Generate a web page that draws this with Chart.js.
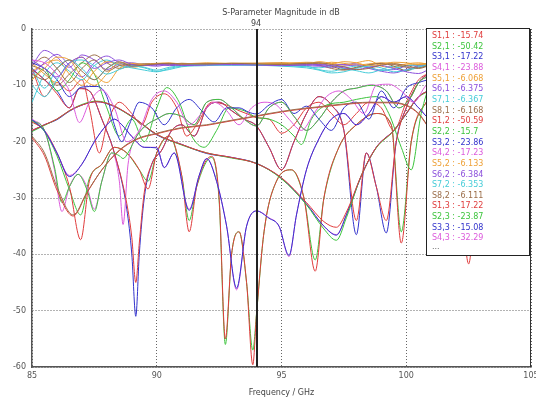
<!DOCTYPE html>
<html><head><meta charset="utf-8">
<script src="https://cdn.jsdelivr.net/npm/chart.js@4.4.0/dist/chart.umd.min.js"></script>
<style>html,body{margin:0;padding:0;background:#fff;overflow:hidden;}</style>
</head><body><canvas id="c" width="536" height="401"></canvas>
<script>
// ---------- data ----------
const chartTitle = 'S-Parameter Magnitude in dB';
const xTitle = 'Frequency / GHz';
const xMin = 85, xMax = 105, xStep = 5;
const yMin = -60, yMax = 0, yStep = 10;
const markerFreq = 94;

const portColors = ['#e03c3c','#3cc43c','#3232cc','#dc5adc','#eea036','#8c50dc','#46ccd8','#9c6e4a'];

const FU = [85,85.5,86,86.5,87,87.5,88,88.5,89,89.5,90,90.5,91,92,93,94,95,96,96.5,97,97.5,98,98.5,99,99.5,100,100.5,101,102,103,104,105];
const vS51 = [-7.5,-6.2,-5.5,-8,-10,-7.5,-5.8,-6.3,-6.8,-6.5,-6.2,-6.4,-6.3,-6.2,-6.1,-6.07,-6.0,-6.2,-5.8,-6.1,-6.4,-6.0,-5.6,-6.6,-6.8,-6.2,-6.0,-6.3,-6.1,-6.2,-6.1,-6.1];
const vS61 = [-6.5,-3.8,-5,-6.8,-4.6,-5.5,-7.2,-6.2,-6.0,-6.4,-6.6,-6.3,-6.4,-6.3,-6.2,-6.38,-6.3,-6.5,-6.6,-6.4,-6.3,-6.2,-6.8,-7.3,-7.2,-6.6,-6.4,-6.5,-6.4,-6.3,-6.4,-6.4];
const vS71 = [-13,-8,-6,-7.5,-9,-6.5,-5.5,-6.5,-6.9,-7.3,-7.6,-7.0,-6.6,-6.4,-6.4,-6.37,-6.5,-6.7,-6.9,-6.6,-7.0,-7.4,-7.8,-7.2,-6.6,-7.4,-6.8,-6.5,-6.4,-6.4,-6.3,-6.4];
const vS81 = [-6.5,-7.5,-10,-8,-6,-4.6,-6,-7,-6.5,-6.2,-6.3,-6.2,-6.2,-6.1,-6.2,-6.17,-6.2,-6.0,-6.4,-7.0,-7.3,-6.9,-6.3,-6.1,-6.6,-7.4,-6.4,-6.2,-6.1,-6.2,-6.1,-6.2];
const vS52 = [-6,-8,-9.5,-6.2,-5,-8,-9.5,-7,-6.2,-6.4,-6.3,-6.2,-6.1,-6.2,-6.1,-6.13,-6.0,-6.1,-6.3,-5.9,-6.1,-6.4,-6.2,-6.0,-6.1,-6.4,-6.2,-6.1,-6.1,-6.2,-6.1,-6.1];
const vS62 = [-8,-6,-4.5,-6.5,-8.5,-6,-4.8,-6,-6.6,-6.4,-6.3,-6.5,-6.4,-6.3,-6.4,-6.38,-6.4,-6.3,-6.5,-6.8,-6.6,-6.4,-7.0,-7.5,-7.8,-7.2,-6.6,-6.4,-6.4,-6.4,-6.4,-6.4];
const vS72 = [-7,-10.5,-7,-5.5,-7,-9,-7,-6,-6.5,-6.8,-7.3,-6.8,-6.5,-6.3,-6.4,-6.35,-6.4,-6.6,-7.2,-7.5,-7.0,-6.6,-6.8,-7.4,-7.0,-6.5,-6.4,-6.3,-6.4,-6.4,-6.3,-6.4];
const vS82 = [-6.5,-5,-7,-9.5,-7,-5.5,-7.5,-6.5,-6.3,-6.2,-6.1,-6.2,-6.1,-6.2,-6.1,-6.11,-6.1,-6.2,-6.1,-6.6,-7.2,-6.8,-6.4,-6.1,-6.3,-6.8,-7.0,-6.4,-6.1,-6.1,-6.1,-6.1];
const vS53 = [-9,-7,-5,-5.5,-8.5,-10,-8,-6,-6.1,-6.3,-6.1,-6.0,-6.2,-6.0,-6.1,-6.1,-6.2,-5.9,-6.0,-6.2,-5.8,-6.0,-6.5,-6.3,-5.9,-6.0,-6.3,-6.2,-6.0,-6.1,-6.1,-6.0];
const vS73 = [-10,-12,-9,-6,-5.5,-6.5,-8,-7.2,-6.5,-6.9,-7.5,-7.2,-6.7,-6.5,-6.3,-6.4,-6.6,-6.9,-7.3,-7.8,-7.6,-7.0,-6.6,-6.9,-7.6,-7.3,-6.7,-6.4,-6.4,-6.3,-6.4,-6.3];
const vS64 = [-5.5,-7,-8.5,-6,-5,-7,-6,-5.5,-6.3,-6.5,-6.4,-6.2,-6.5,-6.4,-6.3,-6.4,-6.5,-6.4,-6.3,-6.5,-6.9,-7.2,-6.8,-6.5,-7.0,-7.6,-7.9,-7.0,-6.5,-6.4,-6.4,-6.4];
const vS84 = [-8,-9,-7,-5.5,-7.5,-9,-7,-5.8,-6.6,-6.4,-6.2,-6.1,-6.2,-6.2,-6.1,-6.2,-6.3,-6.1,-6.0,-6.3,-6.7,-7.2,-7.0,-6.4,-6.2,-6.5,-6.9,-6.3,-6.2,-6.1,-6.2,-6.2];

const fA1 = [85,85.5,86,86.5,87,87.3,87.7,88,88.5,89,89.4,89.8,90.3,90.8,91.2,91.6,92.2,92.8,93.3,93.7,94,94.5,95,95.5,96,96.5,97,97.5,98,98.5,99,99.5,100,100.5,101,102,103,104,105];
const vS11 = [-7,-12,-9.5,-11,-9,-14,-22,-17,-13,-15,-17,-13,-11.5,-14,-19,-17,-13,-13.5,-14.5,-15.2,-15.74,-16,-18.5,-17,-14,-13,-15,-17,-15,-13,-14,-18,-13,-9,-8,-10,-8,-10,-9];

const fA2 = [85,85.5,86,86.5,87,87.5,88,88.5,89,89.5,90,90.4,90.9,91.4,91.9,92.4,92.9,93.5,94,94.5,95,95.5,95.8,96.2,96.8,97.5,98,98.8,99.3,99.8,100.2,100.6,101,102,103,104,105];
const vS22 = [-9,-7,-11,-9,-6,-8,-14,-19,-16,-20,-14,-10.4,-13,-19,-21,-18,-14,-14.5,-15.7,-16,-17,-19,-20.5,-16,-13.5,-13,-12.5,-12,-15,-21,-25,-15,-10,-9,-11,-9,-10];

const fA3 = [85,85.5,86,86.5,87,87.6,88,88.3,88.6,88.9,89.3,89.8,90.3,90.8,91.3,91.8,92.3,92.8,93.3,93.7,94,94.5,95,95.5,96,96.5,97,97.5,98,98.5,99,99.5,100,100.5,101,102,103,104,105];
const vS33 = [-6,-7,-9,-12,-10.3,-10.2,-12,-17,-20,-17,-13,-14,-17,-14,-12.5,-14.5,-16.5,-14,-14,-14.8,-15.08,-13.5,-12.5,-15,-13.7,-16,-18,-14,-13,-16,-11,-14,-10.5,-9.5,-9,-11,-9,-10,-9];

const fA4 = [85,85.5,86,86.5,86.9,87.3,87.8,88.3,88.8,89.3,89.8,90.3,90.8,91.3,91.8,92.3,92.8,93.3,93.8,94.3,94.8,95.3,95.8,96.3,96.8,97.3,97.8,98.3,98.8,99.3,99.8,100.3,100.8,101.5,102,103,104,105];
const vS44 = [-5.5,-6,-8,-11,-16.6,-13,-10.8,-14,-20,-18,-12.5,-11,-13,-17,-15,-13,-14.5,-17,-14,-13,-13.5,-16,-18,-15,-12,-11,-12.5,-15,-10,-9.8,-11,-13,-10,-9,-10,-9,-10,-9];

const fB = [85,85.5,86,86.5,86.95,87.3,87.8,88.3,88.8,89.3,89.65,90,90.5,91,91.3,91.6,92.2,92.5,92.75,93.0,93.3,93.6,93.85,94,94.3,94.8,95.4,95.9,96.35,96.7,97.3,98,98.8,99.4,99.8,100.2,100.8,101.5,102,102.5,103,104,105];
const vS12 = [-16.5,-18,-22,-28,-37.4,-27,-24,-21,-22,-25,-28.4,-22,-19,-26,-36,-28,-22.6,-30,-55,-40,-36,-45,-59.6,-50.59,-36,-27,-25,-30,-43,-30,-21,-17,-15,-17,-38,-20,-13,-10,-15,-41.7,-15,-12,-12];
const vS21 = [-16.3,-18.2,-22.5,-28.5,-33,-26.5,-24,-21,-22,-25,-27,-22,-19,-26,-34,-28,-22.8,-30.5,-56,-40,-36,-45,-57,-50.42,-36,-27,-25,-30,-41,-30,-21,-17,-15,-17,-36,-20,-13,-10,-15,-40,-15,-12,-12];

const fC = [85,85.5,86,86.5,86.9,87.3,87.8,88.3,88.8,89.0,89.16,89.3,89.5,89.8,90.2,90.6,91,91.5,92,92.5,93,93.5,94,94.5,95,95.5,96,96.5,97,97.5,98,98.4,98.8,99.2,99.6,100,100.5,101,102,103,104,105];
const vS31 = [-7,-9,-11,-14,-10.5,-11,-16,-22,-32,-40,-51,-40,-30,-24,-21.5,-18,-17,-19,-14,-13,-14.5,-16,-17.22,-21,-25,-20,-15,-12,-13.5,-18,-36.5,-22,-28,-36.2,-20,-14,-9.5,-8,-9,-12,-9,-10];
const vS13 = [-7.2,-9,-11.5,-14,-10.6,-11,-16,-22,-31,-37,-45,-38,-29,-24,-21.5,-18,-17,-19,-14,-13,-14.5,-16,-17.22,-21,-25,-20,-15,-12,-13.5,-18,-34,-22,-28,-34,-20,-14,-9.5,-8,-9,-12,-9,-10];

const fD = [85,85.5,86,86.5,87,87.6,88.2,89,90,91,92,93,94,95,96,96.7,97.2,97.6,98.2,98.8,99.5,100,100.5,101,102,103,104,105];
const vS41 = [-18,-17,-16,-14.5,-13.5,-12.9,-13.5,-15.5,-18.7,-20.5,-22,-22.8,-23.88,-26.5,-31,-35,-36.5,-33,-26,-21,-18,-15,-12,-11,-13,-15,-13,-12];
const vS32 = [-18.1,-17,-16.1,-14.6,-13.5,-12.9,-13.6,-15.5,-18.8,-20.5,-22.1,-22.8,-23.86,-26.5,-31.1,-35,-36.6,-33,-26.1,-21,-18,-15.1,-12,-11,-13,-15,-13,-12];
const vS23 = [-18.2,-17.1,-16,-14.5,-13.4,-12.8,-13.5,-15.6,-18.7,-20.6,-22,-22.9,-23.87,-26.6,-31.2,-35.5,-37.5,-33.5,-26,-21.1,-18.1,-15,-12.1,-11.1,-13.1,-15.1,-13.1,-12.1];
const vS14 = [-18,-17,-16,-14.5,-13.5,-12.9,-13.5,-15.5,-18.7,-20.5,-22,-22.8,-23.9,-26.4,-30.8,-34.2,-35.2,-32.5,-26,-21,-18,-15,-12,-11,-13,-15,-13,-12];

const fE = [85,85.5,85.9,86.2,86.5,86.85,87.2,87.5,87.8,88.2,88.5,88.65,88.85,89.2,89.6,90,90.5,91,91.5,92,92.5,93,93.5,94,94.5,95,95.5,96,96.5,97,97.5,98,98.6,99.2,99.7,100.2,100.5,101,102,103,104,105];
const vS42 = [-16,-18,-25,-32.4,-28,-25.8,-28,-32,-27,-22,-27,-34.7,-24,-19,-17,-16,-15,-15.5,-17,-13,-12.5,-14,-16,-17.23,-14,-13,-15.5,-18,-16,-13,-11,-10.5,-9.9,-11,-14,-12,-9.5,-8.5,-10,-9,-11,-9];
const vS24 = [-16.2,-18,-24.5,-30.8,-28,-25.8,-28.5,-32.4,-27,-22,-22.5,-23,-22,-19,-17,-16,-15,-15.5,-17,-13,-12.5,-14,-16,-17.2,-14,-13,-15.5,-18,-16,-13,-11,-10.5,-10,-11,-14,-12,-9.5,-8.5,-10,-9,-11,-9];

const fF = [85,85.5,86,86.5,87,87.5,88,88.3,88.6,89,89.5,90,90.3,90.7,91.3,91.7,92.0,92.4,92.8,93.2,93.6,94,94.5,94.9,95.3,95.6,96,96.5,97,97.5,98,98.5,99,99.5,100,100.5,101,102,103,104,105];
const vS43 = [-16,-18,-22,-26,-24,-20,-17,-16,-17,-19,-21,-21,-24.6,-22,-32,-26,-23,-27,-35,-46.3,-35,-32.29,-33.5,-35,-40.4,-33,-25,-19.5,-16,-15,-17,-15,-12,-13,-12,-14,-16,-14,-12,-14,-12];
const vS34 = [-16.1,-18.1,-22,-26.2,-24,-20,-17,-16,-17,-19.1,-21,-21.1,-24.6,-22,-32.2,-26,-23,-27.1,-35,-46,-35,-32.3,-33.6,-35,-40.2,-33,-25,-19.5,-16,-15,-17,-15,-12,-13,-12,-14,-16,-14,-12,-14,-12];

const fDome = [85,85.5,86,86.65,87.2,87.8,88.5,89.2,90,91,92,92.5,93.5,94.5,95.5,96.5,97.5,98.5,99.3,100,100.5,101,102,103,104,105];
const vS18 = [-19.3,-22.5,-28.6,-33.2,-29.1,-25,-21.6,-19.6,-18.6,-17.6,-17.1,-16.7,-15.9,-15.1,-14.4,-13.9,-13.4,-13.1,-13.1,-13.6,-15.1,-18.1,-22.1,-20.1,-17.1,-15.1];
const vS85 = [-19,-22,-28,-33,-29,-25,-21.5,-19.5,-18.5,-17.5,-17,-16.6,-15.8,-15,-14.3,-13.8,-13.3,-13,-13,-13.5,-15,-18,-22,-20,-17,-15];

// legend (values at marker 94 GHz)
const legendLabels = ['S1,1','S2,1','S3,1','S4,1','S5,1','S6,1','S7,1','S8,1','S1,2','S2,2','S3,2','S4,2','S5,2','S6,2','S7,2','S8,2','S1,3','S2,3','S3,3','S4,3'];
const legendValues = ['-15.74','-50.42','-17.22','-23.88','-6.068','-6.375','-6.367','-6.168','-50.59','-15.7','-23.86','-17.23','-6.133','-6.384','-6.353','-6.111','-17.22','-23.87','-15.08','-32.29'];

// series: [name, colour index, freqs, dB]
const series = [
  ['S1,1',0,fA1,vS11],['S2,1',1,fB,vS21],['S3,1',2,fC,vS31],['S4,1',3,fD,vS41],
  ['S5,1',4,FU,vS51],['S6,1',5,FU,vS61],['S7,1',6,FU,vS71],['S8,1',7,FU,vS81],
  ['S1,2',0,fB,vS12],['S2,2',1,fA2,vS22],['S3,2',2,fD,vS32],['S4,2',3,fE,vS42],
  ['S5,2',4,FU,vS52],['S6,2',5,FU,vS62],['S7,2',6,FU,vS72],['S8,2',7,FU,vS82],
  ['S1,3',0,fC,vS13],['S2,3',1,fD,vS23],['S3,3',2,fA3,vS33],['S4,3',3,fF,vS43],
  ['S5,3',4,FU,vS53],['S7,3',6,FU,vS73],['S6,4',5,FU,vS64],['S8,4',7,FU,vS84],
  ['S1,4',0,fD,vS14],['S2,4',1,fE,vS24],['S3,4',2,fF,vS34],['S4,4',3,fA4,vS44],
  ['S1,8',0,fDome,vS18],['S8,5',7,fDome,vS85]
];

// ---------- chart ----------
const FONT = '"DejaVu Sans", Verdana, sans-serif';
const datasets = series.map((s, i) => ({
  label: s[0],
  data: s[2].map((f, k) => ({x: f, y: s[3][k]})),
  borderColor: portColors[s[1]],
  borderWidth: 1,
  pointRadius: 0,
  fill: false,
  cubicInterpolationMode: 'monotone',
  order: -i
}));

const overlay = {
  id: 'overlay',
  afterDatasetsDraw(chart) {
    const {ctx, chartArea: a, scales: {x}} = chart;
    ctx.save();
    // right frame line
    ctx.strokeStyle = '#333'; ctx.lineWidth = 1;
    ctx.beginPath(); ctx.moveTo(a.right - 0.5, a.top); ctx.lineTo(a.right - 0.5, a.bottom); ctx.stroke();
    // marker
    const mx = Math.round(x.getPixelForValue(markerFreq));
    ctx.strokeStyle = '#222'; ctx.lineWidth = 2;
    ctx.beginPath(); ctx.moveTo(mx, a.top); ctx.lineTo(mx, a.bottom); ctx.stroke();
    ctx.fillStyle = '#444'; ctx.font = '8px ' + FONT;
    ctx.textAlign = 'center'; ctx.textBaseline = 'middle';
    ctx.fillText(String(markerFreq), mx - 1, a.top - 5);
    // title
    ctx.fillText(chartTitle, 281, 13);
    // legend box
    const bx = 426.5, by = 28.5, bw = 103, bh = 227;
    ctx.fillStyle = '#fff'; ctx.fillRect(bx, by, bw, bh);
    ctx.strokeStyle = '#222'; ctx.lineWidth = 1; ctx.strokeRect(bx, by, bw, bh);
    ctx.textAlign = 'left'; ctx.font = '8px ' + FONT;
    legendLabels.forEach((lab, i) => {
      const ci = parseInt(lab.slice(1), 10) - 1;
      ctx.fillStyle = portColors[ci];
      ctx.fillText(lab + ' : ' + legendValues[i], 432, 36 + i * 10.65);
    });
    ctx.fillStyle = '#666';
    ctx.fillText('...', 432, 36 + 20 * 10.65 - 2);
    ctx.restore();
  }
};

new Chart(document.getElementById('c'), {
  type: 'line',
  data: {datasets},
  options: {
    responsive: false, animation: false, devicePixelRatio: 1,
    layout: {padding: {top: 29, right: 5, left: 0, bottom: 0}},
    plugins: {legend: {display: false}, title: {display: false}, tooltip: {enabled: false}},
    elements: {line: {tension: 0.4}},
    scales: {
      x: {
        type: 'linear', min: xMin, max: xMax,
        ticks: {stepSize: xStep, color: '#555', font: {family: FONT, size: 8}, padding: 4, maxRotation: 0, autoSkip: false},
        grid: {color: '#666', lineWidth: 1, drawTicks: false},
        border: {display: true, color: '#555', width: 1.5, dash: [1, 2]},
        title: {display: true, text: xTitle, color: '#444', font: {family: FONT, size: 8}, padding: {top: 0, bottom: 3}},
        afterFit(s) { s.height = 34; s.paddingLeft = 0; s.paddingRight = 0; }
      },
      y: {
        type: 'linear', min: yMin, max: yMax,
        ticks: {stepSize: yStep, color: '#555', font: {family: FONT, size: 8}, padding: 6},
        grid: {color: '#666', lineWidth: 1, drawTicks: false},
        border: {display: true, color: '#555', width: 1.5, dash: [1, 2]},
        afterFit(s) { s.width = 32; s.paddingTop = 0; s.paddingBottom = 0; }
      }
    }
  },
  plugins: [overlay]
});
</script></body></html>
